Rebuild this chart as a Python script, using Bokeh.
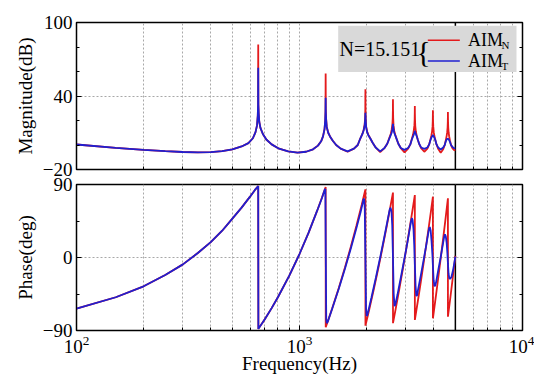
from bokeh.plotting import figure
from bokeh.layouts import column
from bokeh.models import FixedTicker, Span, Label, BoxAnnotation, LinearAxis
from bokeh.embed import file_html
from bokeh.resources import INLINE

# ---------------- data ----------------
mag_freq = [
    100, 150, 200, 250, 300, 350, 400, 450, 500, 550, 590, 618, 635, 645, 650, 652, 653,
    654, 656, 660, 668, 685, 710, 750, 810, 890, 980, 1070, 1150, 1210, 1250, 1275, 1295, 1304, 1308, 1310,
    1312, 1316, 1325, 1345, 1370, 1410, 1460, 1530, 1643, 1755, 1825, 1875, 1915, 1940, 1960, 1969, 1973, 1975,
    1977, 1981, 1990, 2010, 2035, 2075, 2125, 2195, 2300, 2405, 2475, 2525, 2565, 2590, 2610, 2619, 2623, 2625,
    2627, 2631, 2640, 2660, 2685, 2725, 2775, 2845, 2958, 3070, 3140, 3190, 3230, 3255, 3275, 3284, 3288, 3290,
    3292, 3296, 3305, 3325, 3350, 3390, 3440, 3510, 3628, 3745, 3815, 3865, 3905, 3930, 3950, 3959, 3963, 3965,
    3967, 3971, 3980, 4000, 4025, 4065, 4115, 4185, 4298, 4410, 4480, 4530, 4570, 4595, 4615, 4624, 4628, 4630,
    4632, 4636, 4645, 4665, 4690, 4730, 4780, 4850, 4925, 5000]
mag_aim_n = [
    0.4, -2.3, -4.0, -5.0, -5.7, -6.0, -5.8, -5.0, -3.5, -1.2, 1.5, 5.5, 10.5, 16, 24, 33, 82,
    33, 26, 19, 14, 9, 4.5, 0.5, -3, -5.2, -6.2, -5.5, -3.5, -0.5, 3, 7, 13, 20, 28, 58.4,
    30, 22, 15, 10, 7, 3.5, 0, -3, -5.5, -3, 0, 5.5, 9, 12.5, 17, 22, 30, 45.5,
    30, 22, 15, 11, 8.5, 5.5, 2, -2, -5.8, -2.5, 1, 5.5, 9, 12.5, 17, 22, 29, 37.3,
    29, 22, 16, 11.5, 8.5, 5, 1, -2.5, -6, -3, 0.5, 5, 8.5, 12, 16, 21, 27, 31.9,
    26, 21, 15.5, 11, 8, 4.5, 1, -2.5, -5.5, -3, 0.5, 4.5, 8, 11, 15, 19.5, 24, 28.3,
    24, 19.5, 15, 10.5, 7.5, 4, 0.5, -3, -6.3, -3.5, 0, 4, 7.5, 10.5, 14.5, 19, 23, 26.9,
    23, 19, 14.5, 10, 7, 3.5, 0, -2.5, -4, -4.5]
mag_aim_t = [
    0.4, -2.3, -4.0, -5.0, -5.7, -6.0, -5.8, -5.0, -3.5, -1.2, 1.5, 5.5, 10.5, 16, 24, 33, 63,
    33, 26, 19, 14, 9, 4.5, 0.5, -3, -5.2, -6.2, -5.5, -3.5, -0.5, 3, 7, 13, 20, 27, 38.6,
    27, 21, 14.5, 10, 7, 3.5, 0, -3, -5.2, -3, 0, 5.5, 9, 12, 16, 20, 24, 26.3,
    24, 20, 14.5, 10.5, 8, 5.5, 2, -2, -5.2, -2.5, 1, 5, 8, 10, 13, 15.5, 17, 17.3,
    17, 15.5, 13, 10, 8, 5, 1, -2.5, -4, -2.5, 0.5, 4.5, 7, 8.5, 10, 11, 11.5, 11.8,
    11.5, 11, 10, 9, 7.5, 4.5, 1, -2, -3.2, -2, 0.5, 4, 6, 7, 7.5, 8, 8, 8,
    8, 8, 7.5, 7, 6, 4, 0.5, -2, -3.7, -2, 0, 3, 4.5, 5, 5, 5, 5, 5,
    5, 5, 5, 4.5, 4, 2.5, 0, -1.5, -2.5, -2.8]

phase_freq_n = [
    100, 150, 200, 250, 300, 350, 400, 450, 500, 550, 600, 630, 653,
    654, 700, 750, 800, 900, 1000, 1100, 1200, 1260, 1310,
    1311, 1350, 1400, 1500, 1600, 1700, 1800, 1900, 1950, 1975,
    1976, 2050, 2150, 2250, 2350, 2450, 2550, 2625,
    2626, 2700, 2800, 2900, 3000, 3100, 3200, 3290,
    3291, 3400, 3500, 3600, 3700, 3800, 3900, 3965,
    3966, 4100, 4200, 4300, 4400, 4500, 4630,
    4631, 4750, 4850, 5000]
phase_aim_n = [
    -63, -49, -35.5, -21.5, -8.5, 5.5, 19, 33, 48, 61.5, 75, 83, 88,
    -88, -75.7, -62.4, -49, -22.4, 4.3, 31, 57.7, 73.7, 87,
    -86, -76, -63.2, -37.6, -12, 13.6, 39.2, 64.8, 77.6, 84,
    -84, -65.3, -40, -14.8, 10.5, 35.8, 61, 80,
    -81, -63.4, -39.6, -15.8, 8, 31.8, 55.6, 77,
    -77, -52.4, -29.9, -7.3, 15.2, 37.8, 60.3, 75,
    -75, -45.1, -22.8, -0.5, 21.8, 44, 73,
    -73, -49, -28.5, 2]

phase_freq_t = [
    100, 150, 200, 250, 300, 350, 400, 450, 500, 550, 600, 630, 653,
    654, 700, 750, 800, 900, 1000, 1100, 1200, 1260, 1290, 1300, 1306, 1312, 1318, 1325, 1340,
    1400, 1500, 1600, 1700, 1800, 1880, 1920, 1935, 1950, 1962, 1975, 1988, 2000, 2015,
    2100, 2200, 2300, 2400, 2480, 2520, 2540, 2560, 2585, 2605, 2625, 2645, 2668, 2690,
    2750, 2850, 2950, 3050, 3120, 3160, 3190, 3215, 3245, 3270, 3290, 3315, 3340, 3365,
    3400, 3500, 3600, 3700, 3780, 3810, 3840, 3875, 3910, 3945, 3965, 3995, 4030, 4060,
    4100, 4200, 4300, 4400, 4450, 4490, 4530, 4570, 4605, 4630, 4660, 4700, 4750,
    4800, 4870, 4930, 5000]
phase_aim_t = [
    -63, -49, -35.5, -21.5, -8.5, 5.5, 19, 33, 48, 61.5, 75, 83, 88,
    -88, -75.7, -62.4, -49, -22.4, 4.3, 31, 57.7, 73, 81.5, 84, 84.5, 0, -76, -81, -79,
    -63.5, -38.5, -13.5, 11.5, 36.5, 56, 67, 71.5, 72.5, 60, 0, -62, -72, -71,
    -50, -25, 0, 25, 45, 55, 59.5, 61.5, 57, 40, 0, -45, -60, -58,
    -46, -24, -2.5, 19, 35, 44, 48.5, 46, 35, 15, -8, -35, -47, -47,
    -40, -22, -3.5, 15, 30, 35.5, 37.5, 33, 20, 3, -10, -28, -35, -35,
    -30, -14, 1, 17, 25, 28.5, 26, 18, 5, -7, -20, -26, -26,
    -24, -17, -9, 1]

nyquist_hz = 5000
x_major = [100, 1000, 10000]
x_minor = [200, 300, 400, 500, 600, 700, 800, 900,
           2000, 3000, 4000, 5000, 6000, 7000, 8000, 9000]
mag_major = [-20, 40, 100]
mag_minor = [0, 20, 60, 80]
phase_major = [-90, 0, 90]
phase_minor = [-45, 45]

RED = "#e41a1c"
BLUE = "#1f1fd0"
FONT = "Liberation Serif"

def blank_labels(ticks):
    return {t: "" for t in ticks}

def style(p, yticks, yminor, ylabel, overrides):
    p.outline_line_color = "black"
    p.outline_line_width = 1.5
    p.background_fill_color = "white"
    p.border_fill_color = "white"
    xt = FixedTicker(ticks=x_major, minor_ticks=x_minor)
    yt = FixedTicker(ticks=yticks, minor_ticks=yminor)
    p.xaxis.ticker = xt
    p.yaxis.ticker = yt
    p.add_layout(LinearAxis(ticker=yt, major_label_overrides=blank_labels(yticks),
                            major_label_standoff=0), "right")
    for ax in p.axis:
        ax.major_tick_in = 5
        ax.major_tick_out = 0
        ax.minor_tick_in = 3
        ax.minor_tick_out = 0
        ax.axis_line_color = "black"
        ax.major_tick_line_color = "black"
        ax.minor_tick_line_color = "black"
        ax.major_label_text_font = FONT
        ax.major_label_text_color = "black"
        ax.axis_label_text_font = FONT
        ax.axis_label_text_font_style = "normal"
        ax.axis_label_text_color = "black"
    p.yaxis[0].major_label_text_font_size = "19px"
    p.yaxis[0].axis_label = ylabel
    p.yaxis[0].axis_label_text_font_size = "19px"
    p.yaxis[0].axis_label_standoff = 4
    p.yaxis[0].major_label_standoff = 4
    p.yaxis[0].major_label_overrides = overrides
    for g in (p.xgrid[0], p.ygrid[0]):
        g.grid_line_color = "#a8a8a8"
        g.grid_line_dash = "2 2"
        g.grid_line_width = 1
    p.xgrid[0].minor_grid_line_color = "#a8a8a8"
    p.xgrid[0].minor_grid_line_dash = "2 2"
    p.xgrid[0].ticker = xt
    p.ygrid[0].ticker = yt
    p.add_layout(Span(location=nyquist_hz, dimension="height", level="underlay",
                      line_color="black", line_width=1.5))

p1 = figure(width=534, height=176, x_axis_type="log", x_range=(100, 10000),
            y_range=(-20, 100), output_backend="svg", toolbar_location=None,
            min_border_left=76, min_border_right=12, min_border_top=22,
            min_border_bottom=7)
p2 = figure(width=534, height=206, x_axis_type="log", x_range=p1.x_range,
            y_range=(-90, 90), output_backend="svg", toolbar_location=None,
            min_border_left=76, min_border_right=12, min_border_top=8,
            min_border_bottom=52)

style(p1, mag_major, mag_minor, "Magnitude(dB)", {-20: "\u221220"})
style(p2, phase_major, phase_minor, "Phase(deg)", {-90: "\u221290"})

p1.xaxis[0].major_label_overrides = blank_labels(x_major)
p1.xaxis[0].major_label_standoff = 0
p2.xaxis[0].major_label_text_font_size = "19px"
p2.xaxis[0].major_label_standoff = 5
p2.xaxis[0].axis_label = "Frequency(Hz)"
p2.xaxis[0].axis_label_text_font_size = "19px"
p2.xaxis[0].axis_label_standoff = -3

p1.line(mag_freq, mag_aim_n, line_color=RED, line_width=1.8)
p1.line(mag_freq, mag_aim_t, line_color=BLUE, line_width=1.8)
p2.line(phase_freq_n, phase_aim_n, line_color=RED, line_width=1.8)
p2.line(phase_freq_t, phase_aim_t, line_color=BLUE, line_width=1.8)

# legend block
p1.add_layout(BoxAnnotation(left=1491, right=9399, top=97.3, bottom=59.6, level="underlay",
                            fill_color="#d9d9d9", fill_alpha=1, line_color=None))
p1.add_layout(Label(x=1511, y=78.6, text="N=15.151", text_font=FONT,
                    text_font_size="20px", text_baseline="middle", text_color="black"))
p1.add_layout(Label(x=3337, y=76.5, text="{", text_font=FONT,
                    text_font_size="30px", text_baseline="middle", text_color="black"))
p1.segment(x0=[3761], y0=[85.6], x1=[5235], y1=[85.6], line_color=RED, line_width=1.5)
p1.segment(x0=[3761], y0=[68.6], x1=[5235], y1=[68.6], line_color=BLUE, line_width=1.5)
for yy, ys, sub in ((85.7, 81.8, "N"), (68.8, 64.8, "T")):
    p1.add_layout(Label(x=5700, y=yy, text="AIM", text_font=FONT, text_font_size="18px",
                        text_baseline="middle", text_color="black"))
    p1.add_layout(Label(x=8050, y=ys, text=sub, text_font=FONT, text_font_size="11px",
                        text_baseline="middle", text_color="black"))

layout = column(p1, p2, spacing=0)
open("out.html", "w").write(file_html(layout, INLINE))
